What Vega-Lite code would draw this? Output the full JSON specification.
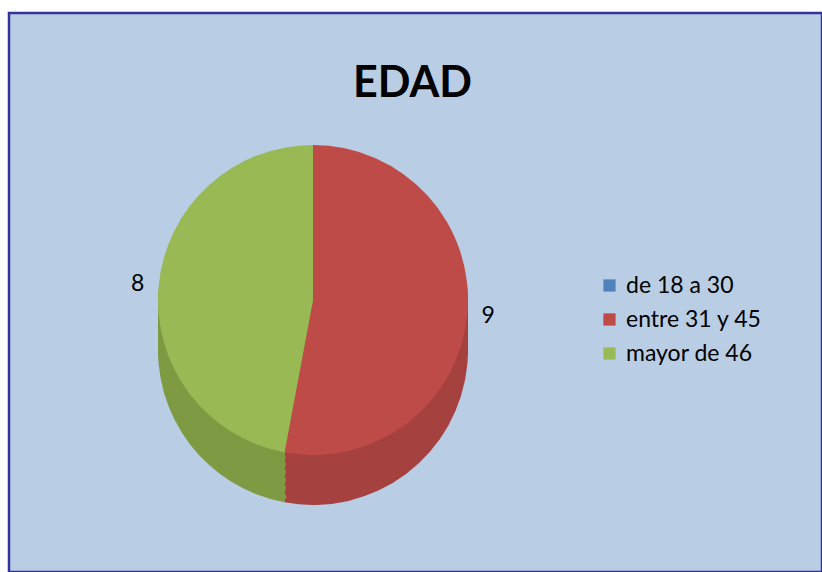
{
  "$schema": "https://vega.github.io/schema/vega-lite/v6.json",
  "width": 813,
  "height": 559,
  "autosize": {"type": "none"},
  "padding": {"left": 9, "top": 13, "right": 0, "bottom": 0},
  "background": "white",
  "view": {"fill": "#B9CDE5", "stroke": "#333399", "strokeWidth": 2.5},
  "config": {
    "font": "Lato",
    "legend": {
      "orient": "none",
      "legendX": 589,
      "legendY": 261,
      "symbolType": "square",
      "symbolSize": 150,
      "symbolStrokeWidth": 0,
      "labelFontSize": 23,
      "labelFont": "Lato",
      "labelColor": "black",
      "rowPadding": 10,
      "labelOffset": 5
    }
  },
  "title": {"text": "EDAD", "fontSize": 43, "fontWeight": "bold", "font": "Lato", "color": "black", "offset": -93, "dx": -3, "anchor": "middle"},
  "data": {"values": [
    {"cat": "de 18 a 30", "value": 0},
    {"cat": "entre 31 y 45", "value": 9},
    {"cat": "mayor de 46", "value": 8}
  ]},
  "layer": [
    {
      "encoding": {
        "theta": {"field": "value", "type": "quantitative", "stack": true},
        "color": {"field": "cat", "type": "nominal", "legend": null, "scale": {"domain": ["de 18 a 30", "entre 31 y 45", "mayor de 46"], "range": ["#3F6A9E", "#A5413F", "#7E9A42"]}}
      },
      "layer": [
        {"mark": {"type": "arc", "radius": 155, "x": 304, "y": 287, "yOffset": 50}},
        {"mark": {"type": "arc", "radius": 155, "x": 304, "y": 287, "yOffset": 42}},
        {"mark": {"type": "arc", "radius": 155, "x": 304, "y": 287, "yOffset": 34}},
        {"mark": {"type": "arc", "radius": 155, "x": 304, "y": 287, "yOffset": 26}},
        {"mark": {"type": "arc", "radius": 155, "x": 304, "y": 287, "yOffset": 18}},
        {"mark": {"type": "arc", "radius": 155, "x": 304, "y": 287, "yOffset": 10}},
        {"mark": {"type": "arc", "radius": 155, "x": 304, "y": 287, "yOffset": 4}}
      ]
    },
    {"mark": {"type": "arc", "radius": 155, "x": 304, "y": 287},
     "encoding": {"theta": {"field": "value", "type": "quantitative", "stack": true},
       "color": {"field": "cat", "type": "nominal", "title": null, "scale": {"domain": ["de 18 a 30", "entre 31 y 45", "mayor de 46"], "range": ["#4F81BD", "#BE4B48", "#98B954"]}}}},
    {"transform": [{"filter": "datum.value > 0"}],
     "mark": {"type": "text", "radius": 176, "x": 304, "y": 287, "fontSize": 23, "font": "Lato", "color": "black"},
     "encoding": {"theta": {"field": "value", "type": "quantitative", "stack": true},
       "order": {"field": "cat", "sort": "ascending"},
       "text": {"field": "value", "type": "quantitative"}}}
  ],
  "resolve": {"scale": {"color": "independent"}}
}
